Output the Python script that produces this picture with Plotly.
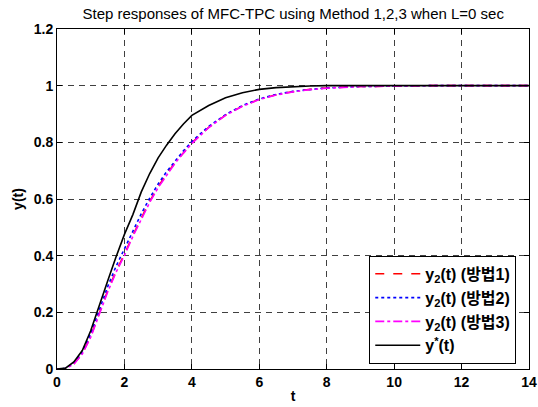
import plotly.graph_objects as go

t = [0, 0.25, 0.5, 0.75, 1.0, 1.25, 1.5, 1.75, 2.0, 2.25, 2.5, 2.75, 3.0, 3.25, 3.5, 3.75,
     4.0, 4.5, 5.0, 5.5, 6.0, 6.5, 7.0, 7.5, 8.0, 9.0, 10.0, 11.0, 12.0, 13.0, 14.0]

y_m1 = [0, 0.002, 0.018, 0.055, 0.115, 0.195, 0.275, 0.345, 0.405, 0.472, 0.535, 0.592, 0.643,
        0.688, 0.728, 0.764, 0.798, 0.853, 0.896, 0.928, 0.952, 0.968, 0.979, 0.987, 0.992,
        0.997, 0.999, 1.0, 1.0, 1.0, 1.0]
y_m2 = [0, 0.002, 0.02, 0.06, 0.124, 0.208, 0.29, 0.362, 0.424, 0.488, 0.548, 0.603, 0.653,
        0.696, 0.735, 0.77, 0.803, 0.856, 0.898, 0.93, 0.953, 0.969, 0.98, 0.987, 0.992,
        0.997, 0.999, 1.0, 1.0, 1.0, 1.0]
y_m3 = [0, 0.002, 0.017, 0.053, 0.112, 0.191, 0.271, 0.341, 0.401, 0.468, 0.531, 0.588, 0.64,
        0.685, 0.726, 0.762, 0.796, 0.852, 0.895, 0.927, 0.951, 0.967, 0.978, 0.986, 0.991,
        0.997, 0.999, 1.0, 1.0, 1.0, 1.0]
y_ref = [0, 0.003, 0.025, 0.065, 0.135, 0.225, 0.31, 0.395, 0.475, 0.545, 0.625, 0.69, 0.745,
         0.79, 0.83, 0.865, 0.895, 0.93, 0.957, 0.975, 0.987, 0.993, 0.997, 0.999, 1.0,
         1.0, 1.0, 1.0, 1.0, 1.0, 1.0]

names = ["<b>y<sub>2</sub>(t) (방법1)</b>", "<b>y<sub>2</sub>(t) (방법2)</b>",
         "<b>y<sub>2</sub>(t) (방법3)</b>", "<b>y<sup>*</sup>(t)</b>"]
series = [y_m1, y_m2, y_m3, y_ref]
colors = ["#ff0000", "#0000ff", "#ff00ff", "#000000"]
dashes = ["dash", "dot", "dashdot", "solid"]

FONT = "Liberation Sans, Arial, Noto Sans CJK KR, sans-serif"

fig = go.Figure()
for name, ys, c, d in zip(names, series, colors, dashes):
    fig.add_trace(go.Scatter(x=t, y=ys, mode="lines", name=name,
                             line=dict(color=c, dash=d, width=1.6)))

axis_common = dict(
    showline=True, linecolor="black", linewidth=1, mirror="ticks",
    ticks="inside", ticklen=5, tickcolor="black",
    showgrid=True, gridcolor="rgba(0,0,0,0.75)", gridwidth=1, griddash="6px,5px",
    zeroline=False, automargin=False,
    tickfont=dict(family=FONT, size=14, color="black", weight="bold"),
)

fig.update_layout(
    width=538, height=407,
    margin=dict(l=57, r=9, t=29, b=38),
    paper_bgcolor="white", plot_bgcolor="white",
    title=dict(text="Step responses of MFC-TPC using Method 1,2,3 when L=0 sec",
               x=0.545, xanchor="center", y=0.967, yanchor="middle",
               font=dict(family=FONT, size=15, color="black")),
    xaxis=dict(range=[0, 14], dtick=2, tick0=0,
               title=dict(text="<b>t</b>", font=dict(family=FONT, size=14, color="black"),
                          standoff=2),
               **axis_common),
    yaxis=dict(range=[0, 1.2], dtick=0.2, tick0=0,
               title=dict(text="<b>y(t)</b>", font=dict(family=FONT, size=14, color="black"),
                          standoff=6),
               **axis_common),
    legend=dict(x=0.973, y=0.015, xanchor="right", yanchor="bottom",
                bgcolor="white", bordercolor="black", borderwidth=1,
                font=dict(family=FONT, size=16, color="black"),
                tracegroupgap=0, itemwidth=45),
    showlegend=True,
)

fig.write_html("out.html", config={"displayModeBar": False},
               post_script="document.body.style.margin='0';document.body.style.overflow='hidden';")
